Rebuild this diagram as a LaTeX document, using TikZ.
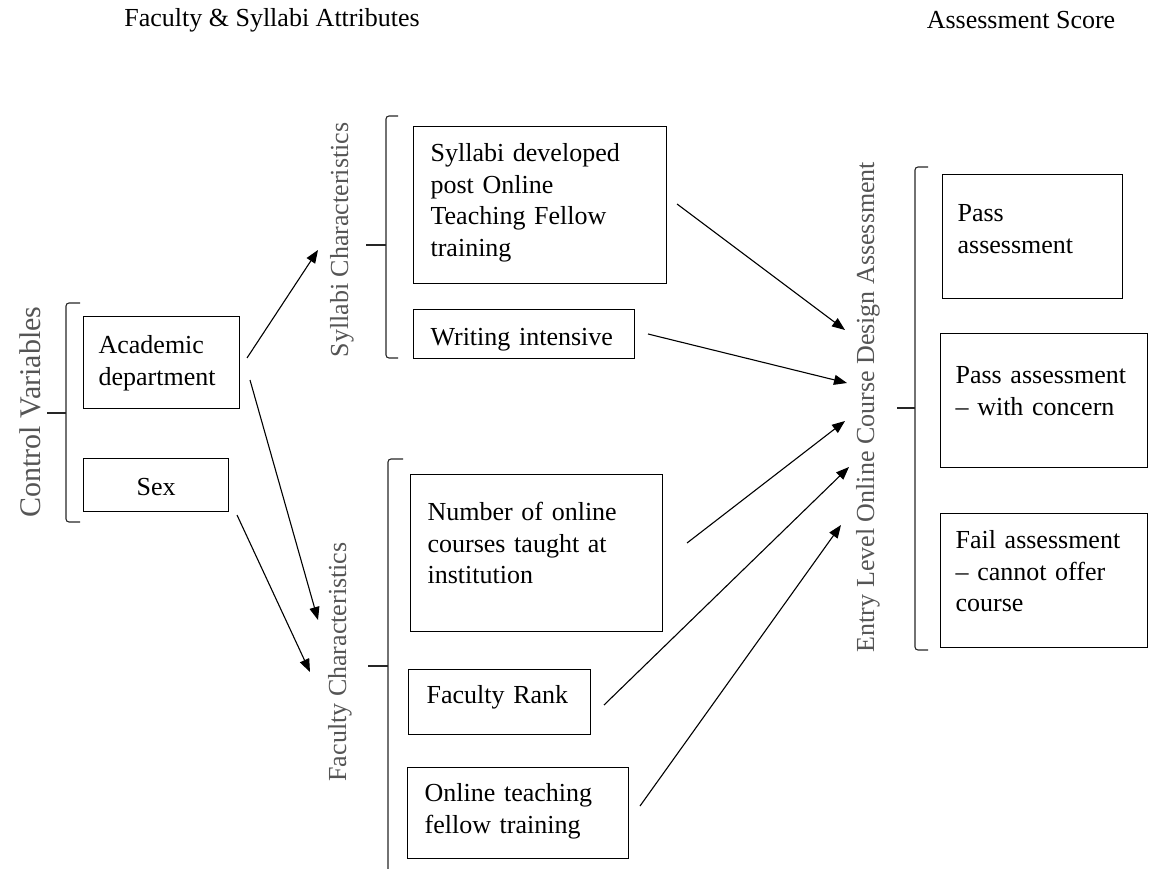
\documentclass[tikz,border=0pt]{standalone}
\usepackage{fontspec}
\setmainfont{Liberation Serif}
\usetikzlibrary{arrows.meta}
\definecolor{lblgray}{RGB}{85,85,85}
\newcommand\bodyfont{\fontsize{26}{31.5}\selectfont}
\newcommand\bigfont{\fontsize{30}{34}\selectfont}
\begin{document}
\begin{tikzpicture}[x=1pt,y=-1pt,
  box/.style={draw, line width=1.2pt, anchor=north west, inner ysep=0pt, align=left, font=\bodyfont},
  rotlbl/.style={rotate=90, text=lblgray, font=\bodyfont, inner sep=0pt},
  brk/.style={draw=black!85, line width=1.1pt, rounded corners=3pt},
  arr/.style={-{Triangle[length=13pt,width=10pt]}, line width=1.1pt},
  ttl/.style={font=\bodyfont, inner sep=0pt}]
\useasboundingbox (0,0) rectangle (1149,869);

% titles
\node[ttl] (t1) at (272,20) {Faculty \& Syllabi Attributes};
\node[ttl] (t2) at (1021,20) {Assessment Score};

% rotated labels
\node[rotlbl, font=\bigfont] (cv) at (30,412) {Control Variables};
\node[rotlbl] (sc) at (342,240) {Syllabi Characteristics};
\node[rotlbl] (fc) at (340,662) {Faculty Characteristics};
\node[rotlbl] (el) at (868,407) {Entry Level Online Course Design Assessment};

% boxes
\node[box, inner xsep=15pt, text width=126pt, text height=37pt, text depth=55pt] (ad) at (83,316) {Academic\\department};
\node[box, inner xsep=0pt, align=center, text width=145pt, text height=37pt, text depth=16pt] (sex) at (83,458) {Sex};
\node[box, inner xsep=17pt, text width=219pt, text height=35pt, text depth=122pt] (syl) at (413,126) {Syllabi developed\\post Online\\Teaching Fellow\\training};
\node[box, inner xsep=17pt, text width=187pt, text height=36pt, text depth=13pt] (wri) at (413,309) {Writing intensive};
\node[box, inner xsep=17pt, text width=218pt, text height=46pt, text depth=111pt] (num) at (410,474) {Number of online\\courses taught at\\institution};
\node[box, inner xsep=18pt, text width=146pt, text height=34pt, text depth=31pt] (rank) at (408,669) {Faculty Rank};
\node[box, inner xsep=17pt, text width=187pt, text height=34pt, text depth=57pt] (otf) at (407,767) {Online teaching\\fellow training};
\node[box, inner xsep=15pt, text width=150pt, text height=47pt, text depth=77pt] (pass) at (942,174) {Pass\\assessment};
\node[box, inner xsep=15pt, text width=177pt, text height=50pt, text depth=84pt] (pwc) at (940,333) {Pass assessment\\\textendash{} with concern};
\node[box, inner xsep=15pt, text width=177pt, text height=35pt, text depth=99pt] (fail) at (940,513) {Fail assessment\\\textendash{} cannot offer\\course};

% brackets
\draw[brk] (80,303) -- (66,303) -- (66,522) -- (80,522);
\draw[brk, rounded corners=0pt] (47,413) -- (66,413);
\draw[brk] (398,116) -- (386,116) -- (386,358) -- (398,358);
\draw[brk, rounded corners=0pt] (366,245) -- (386,245);
\draw[brk] (403,459) -- (388,459) -- (388,875);
\draw[brk, rounded corners=0pt] (368,666) -- (388,666);
\draw[brk] (928,167) -- (915,167) -- (915,650) -- (928,650);
\draw[brk, rounded corners=0pt] (897,408) -- (915,408);

% arrow end points
\coordinate (a1s) at (247,358); \coordinate (a1e) at (318,250);
\coordinate (a2s) at (250,380); \coordinate (a2e) at (318,620);
\coordinate (a3s) at (237,515); \coordinate (a3e) at (310,672);
\coordinate (b1s) at (677,204); \coordinate (b1e) at (845,330);
\coordinate (b2s) at (648,334); \coordinate (b2e) at (847,383);
\coordinate (b3s) at (687,543); \coordinate (b3e) at (845,421);
\coordinate (b4s) at (604,705); \coordinate (b4e) at (849,467);
\coordinate (b5s) at (640,806); \coordinate (b5e) at (841,525);

\draw[arr] (a1s) -- (a1e);
\draw[arr] (a2s) -- (a2e);
\draw[arr] (a3s) -- (a3e);
\draw[arr] (b1s) -- (b1e);
\draw[arr] (b2s) -- (b2e);
\draw[arr] (b3s) -- (b3e);
\draw[arr] (b4s) -- (b4e);
\draw[arr] (b5s) -- (b5e);
\end{tikzpicture}
\end{document}
